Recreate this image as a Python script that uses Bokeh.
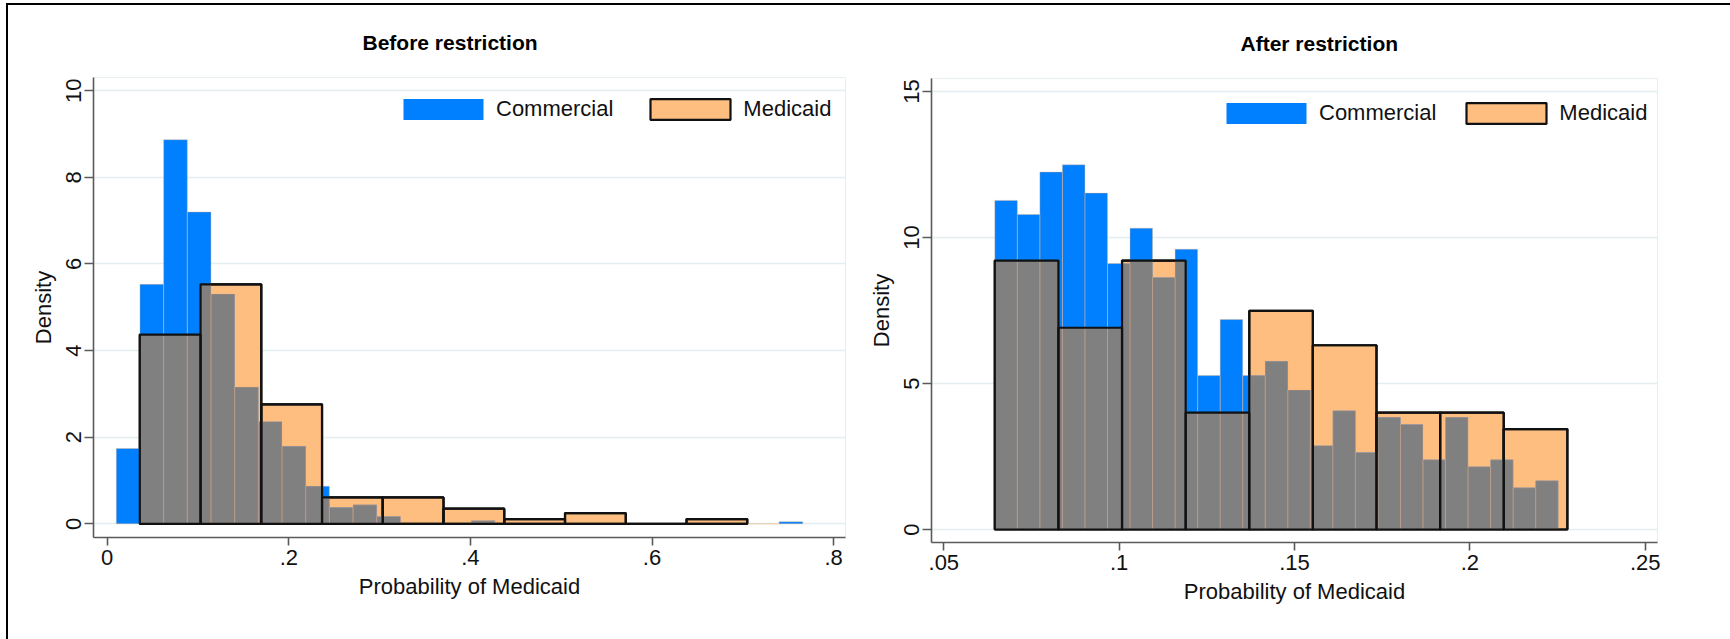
import math
from bokeh.plotting import figure
from bokeh.models import Legend, LegendItem, FixedTicker, Range1d, ColumnDataSource
from bokeh.layouts import row, column
from bokeh.embed import file_html
from bokeh.resources import INLINE

# ---------------- data ----------------
# Before restriction
before_comm_start = 0.0100
before_comm_width = 0.02607
before_comm_density = [1.74, 5.53, 8.87, 7.20, 5.31, 3.16, 2.36, 1.79, 0.87, 0.38,
                       0.44, 0.17, 0.0, 0.0, 0.0, 0.07, 0.0, 0.0, 0.0, 0.0,
                       0.0, 0.0, 0.0, 0.0, 0.0, 0.0, 0.0, 0.0, 0.05]
before_med_start = 0.0359
before_med_width = 0.0669
before_med_density = [4.37, 5.53, 2.76, 0.61, 0.61, 0.35, 0.11, 0.25, 0.0, 0.11]

# After restriction
after_comm_start = 0.06454
after_comm_width = 0.006426
after_comm_density = [11.27, 10.79, 12.24, 12.49, 11.52, 9.11, 10.32, 8.63, 9.60, 5.27,
                      7.19, 5.27, 5.76, 4.78, 2.87, 4.07, 2.64, 3.84, 3.60, 2.39,
                      3.84, 2.15, 2.39, 1.43, 1.67]
after_med_start = 0.06454
after_med_width = 0.01814
after_med_density = [9.21, 6.91, 9.21, 4.00, 7.49, 6.31, 4.00, 4.00, 3.44]

before_xticks = [0, 0.2, 0.4, 0.6, 0.8]
before_xlabels = ["0", ".2", ".4", ".6", ".8"]
before_yticks = [0, 2, 4, 6, 8, 10]
after_xticks = [0.05, 0.1, 0.15, 0.2, 0.25]
after_xlabels = [".05", ".1", ".15", ".2", ".25"]
after_yticks = [0, 5, 10, 15]

titles = ["Before restriction", "After restriction"]
series_names = ["Commercial", "Medicaid"]
x_title = "Probability of Medicaid"
y_title = "Density"

# ---------------- styles ----------------
BLUE = "#0080ff"
ORANGE = "#fdbe80"
GRAY = "#808080"
GRID = "#e4edf0"
AXIS = "#5a5a5a"
FONT = "Liberation Sans"


def bins(start, width, dens):
    n = len(dens)
    left = [start + i * width for i in range(n)]
    right = [start + (i + 1) * width for i in range(n)]
    return dict(left=left, right=right, top=list(dens), bottom=[0.0] * n)


def overlap(cs, cw, ch, ms, mw, mh):
    ce = [cs + i * cw for i in range(len(ch) + 1)]
    me = [ms + i * mw for i in range(len(mh) + 1)]
    edges = sorted(set(round(e, 9) for e in ce + me))
    out = dict(left=[], right=[], top=[], bottom=[])
    for a, b in zip(edges[:-1], edges[1:]):
        mid = 0.5 * (a + b)
        ci = math.floor((mid - cs) / cw)
        mi = math.floor((mid - ms) / mw)
        c = ch[ci] if 0 <= ci < len(ch) else 0.0
        m = mh[mi] if 0 <= mi < len(mh) else 0.0
        h = min(c, m)
        if h > 0:
            out["left"].append(a)
            out["right"].append(b)
            out["top"].append(h)
            out["bottom"].append(0.0)
    return out


def panel(title, cs, cw, ch, ms, mw, mh, xticks, xlabels, yticks,
          width, height, borders, xr, yr, title_offset, legend_loc, legend_spacing):
    bl, br, bt, bb = borders
    p = figure(width=width, height=height, output_backend="svg", toolbar_location=None,
               min_border_left=bl, min_border_right=br, min_border_top=bt, min_border_bottom=bb,
               x_range=Range1d(*xr), y_range=Range1d(*yr), title=title)
    p.background_fill_color = "white"
    p.border_fill_color = "white"
    p.outline_line_color = "#e6eef1"
    p.outline_line_width = 1

    p.title.align = "left"
    p.title.offset = title_offset
    p.title.standoff = 47
    p.title.text_font = FONT
    p.title.text_font_style = "bold"
    p.title.text_font_size = "21px"
    p.title.text_color = "#000000"

    comm = ColumnDataSource(bins(cs, cw, ch))
    med = ColumnDataSource(bins(ms, mw, mh))
    ov = ColumnDataSource(overlap(cs, cw, ch, ms, mw, mh))

    r_med = p.quad(left="left", right="right", top="top", bottom="bottom", source=med,
                   fill_color=ORANGE, line_color="#111111", line_width=2.2)
    r_comm = p.quad(left="left", right="right", top="top", bottom="bottom", source=comm,
                    fill_color=BLUE, line_color=None)
    p.quad(left="left", right="right", top="top", bottom="bottom", source=ov,
           fill_color=GRAY, line_color=None)
    p.quad(left="left", right="right", top="top", bottom="bottom", source=comm,
           fill_color=None, line_color="#f0b080", line_alpha=0.35, line_width=1)
    p.quad(left="left", right="right", top="top", bottom="bottom", source=med,
           fill_color=None, line_color="#111111", line_width=2.2)

    p.xgrid.visible = False
    p.ygrid.grid_line_color = GRID
    p.ygrid.grid_line_width = 1.5

    p.xaxis.ticker = FixedTicker(ticks=xticks)
    p.xaxis.major_label_overrides = {t: l for t, l in zip(xticks, xlabels)}
    p.yaxis.ticker = FixedTicker(ticks=yticks)
    p.yaxis.major_label_orientation = "vertical"

    for ax in (p.xaxis[0], p.yaxis[0]):
        ax.axis_line_color = AXIS
        ax.axis_line_width = 1.6
        ax.major_tick_line_color = AXIS
        ax.major_tick_line_width = 1.6
        ax.major_tick_in = 0
        ax.minor_tick_line_color = None
        ax.major_label_text_font = FONT
        ax.major_label_text_font_size = "22px"
        ax.major_label_text_color = "#111111"
        ax.axis_label_text_font = FONT
        ax.axis_label_text_font_size = "22px"
        ax.axis_label_text_font_style = "normal"
        ax.axis_label_text_color = "#111111"
    p.xaxis.major_tick_out = 8
    p.yaxis.major_tick_out = 9
    p.xaxis.major_label_standoff = 4
    p.yaxis.major_label_standoff = 3
    p.xaxis.axis_label_standoff = 6
    p.yaxis.axis_label_standoff = 8
    p.xaxis.axis_label = x_title
    p.yaxis.axis_label = y_title

    legend = Legend(items=[LegendItem(label=series_names[0], renderers=[r_comm]),
                           LegendItem(label=series_names[1], renderers=[r_med])],
                    orientation="horizontal", location=legend_loc,
                    glyph_width=100, glyph_height=26, label_height=26,
                    label_standoff=3, spacing=legend_spacing, padding=10, margin=0,
                    background_fill_color="white", background_fill_alpha=1.0,
                    border_line_color=None,
                    label_text_font=FONT, label_text_font_size="22px",
                    label_text_color="#111111")
    p.add_layout(legend)
    return p


p1 = panel(titles[0], before_comm_start, before_comm_width, before_comm_density,
           before_med_start, before_med_width, before_med_density,
           before_xticks, before_xlabels, before_yticks,
           840, 634, (85, 3, 70, 102), (-0.0151, 0.8131), (-0.315, 10.306), 269, (300, 415), 27)
p2 = panel(titles[1], after_comm_start, after_comm_width, after_comm_density,
           after_med_start, after_med_width, after_med_density,
           after_xticks, after_xlabels, after_yticks,
           882, 634, (83, 73, 73, 97), (0.04649, 0.25350), (-0.445, 15.445), 309, (285, 416), 20)

layout = row(p1, column(p2), spacing=0, margin=(3, 0, 0, 6),
             styles={"border-top": "2px solid black", "border-left": "2px solid black"})

open("out.html", "w").write(file_html(layout, INLINE))
